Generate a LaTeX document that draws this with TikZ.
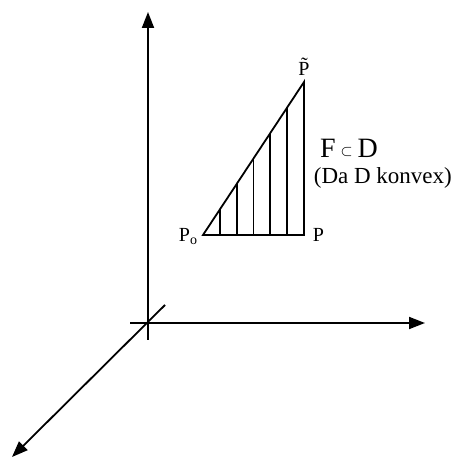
\documentclass[tikz,border=0pt]{standalone}
\usepackage{fontspec}
\setmainfont{Liberation Serif}
\usepackage{tikz}
\usetikzlibrary{positioning, arrows.meta, calc}

\begin{document}
\begin{tikzpicture}[x=0.5pt, y=-0.5pt, line width=0.9pt,
    axis/.style={-{Triangle[length=8pt, width=6pt]}},
    lbl/.style={inner sep=1pt, font=\fontsize{10}{12}\selectfont}]
  \useasboundingbox (0,0) rectangle (466,459);
  % axes
  \coordinate (ztop) at (148,12);
  \coordinate (zbot) at (148,340);
  \coordinate (xleft) at (130,323);
  \coordinate (xend) at (425,323);
  \coordinate (ystart) at (165,305);
  \coordinate (yend) at (12,457);
  \draw[axis] (zbot) -- (ztop);
  \draw[axis] (xleft) -- (xend);
  \draw[axis] (ystart) -- (yend);
  % triangle
  \coordinate (P0) at (203,235);
  \coordinate (P) at (304,235);
  \coordinate (Pt) at (304,82);
  \draw (P0) -- (P) -- (Pt) -- cycle;
  % hatching
  \foreach \k in {1,...,5} {
    \draw ($(P0)!\k/6!(P)$) -- ($(P0)!\k/6!(Pt)$);
  }
  % labels
  \node[lbl, above=2pt of Pt] (Ptlbl) {\~P};
  \node[lbl, left=1pt of P0, yshift=-1pt] (P0lbl) {P\textsubscript{o}};
  \node[lbl, right=3pt of P] (Plbl) {P};
  \node[inner sep=1pt, font=\fontsize{14}{16}\selectfont] (FD) at (349,148)
    {F\,\raisebox{0.05em}{\scriptsize$\subset$}\,D};
  \node[lbl, anchor=west, font=\fontsize{11.5}{13}\selectfont] (konvex)
    at (311,178) {(Da D konvex)};
\end{tikzpicture}
\end{document}
